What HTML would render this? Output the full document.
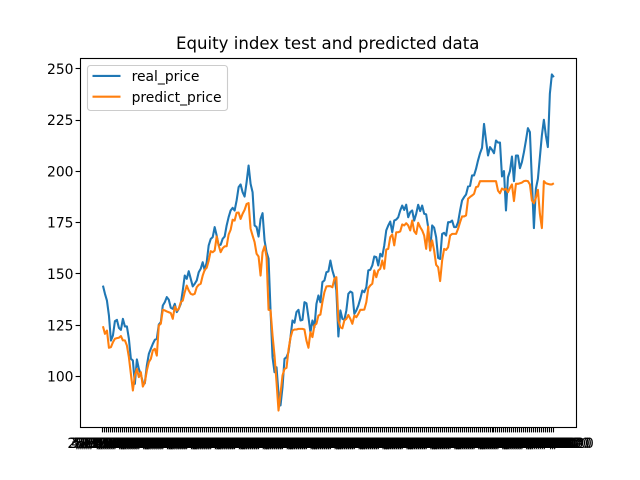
<!DOCTYPE html>
<html>
<head>
<meta charset="utf-8">
<title>Equity index test and predicted data</title>
<style>
html,body{margin:0;padding:0;background:#fff;}
svg{display:block;font-family:"DejaVu Sans","Liberation Sans",sans-serif;}
</style>
</head>
<body>
<svg id="chart" width="640" height="480" viewBox="0 0 640 480" xmlns="http://www.w3.org/2000/svg">
<rect x="0" y="0" width="640" height="480" fill="#fff"/>
<text x="327.7" y="49" font-size="16.6" text-anchor="middle" fill="#000">Equity index test and predicted data</text>
<g id="xticks"></g>
<g id="yticks"></g>
<g id="series"></g>
<rect x="80.5" y="58.5" width="496" height="369" fill="none" stroke="#000" stroke-width="1.11"/>
<g>
<rect x="87.5" y="65.5" width="140" height="45" rx="3" ry="3" fill="#fff" fill-opacity="0.8" stroke="#ccc" stroke-width="1.11"/>
<line x1="92.5" x2="120.5" y1="75.9" y2="75.9" stroke="#1f77b4" stroke-width="2.08"/>
<text x="131.6" y="81" font-size="13.89" fill="#000">real_price</text>
<line x1="92.5" x2="120.5" y1="96.7" y2="96.7" stroke="#ff7f0e" stroke-width="2.08"/>
<text x="131.6" y="102" font-size="13.89" fill="#000">predict_price</text>
</g>
</svg>
<script>
const categories = [
"2/28/2002","3/31/2002","4/30/2002","5/31/2002","6/30/2002","7/31/2002","8/31/2002","9/30/2002","10/31/2002","11/30/2002","12/31/2002",
"1/31/2003","2/28/2003","3/31/2003","4/30/2003","5/31/2003","6/30/2003","7/31/2003","8/31/2003","9/30/2003","10/31/2003","11/30/2003","12/31/2003",
"1/31/2004","2/29/2004","3/31/2004","4/30/2004","5/31/2004","6/30/2004","7/31/2004","8/31/2004","9/30/2004","10/31/2004","11/30/2004","12/31/2004",
"1/31/2005","2/28/2005","3/31/2005","4/30/2005","5/31/2005","6/30/2005","7/31/2005","8/31/2005","9/30/2005","10/31/2005","11/30/2005","12/31/2005",
"1/31/2006","2/28/2006","3/31/2006","4/30/2006","5/31/2006","6/30/2006","7/31/2006","8/31/2006","9/30/2006","10/31/2006","11/30/2006","12/31/2006",
"1/31/2007","2/28/2007","3/31/2007","4/30/2007","5/31/2007","6/30/2007","7/31/2007","8/31/2007","9/30/2007","10/31/2007","11/30/2007","12/31/2007",
"1/31/2008","2/29/2008","3/31/2008","4/30/2008","5/31/2008","6/30/2008","7/31/2008","8/31/2008","9/30/2008","10/31/2008","11/30/2008","12/31/2008",
"1/31/2009","2/28/2009","3/31/2009","4/30/2009","5/31/2009","6/30/2009","7/31/2009","8/31/2009","9/30/2009","10/31/2009","11/30/2009","12/31/2009",
"1/31/2010","2/28/2010","3/31/2010","4/30/2010","5/31/2010","6/30/2010","7/31/2010","8/31/2010","9/30/2010","10/31/2010","11/30/2010","12/31/2010",
"1/31/2011","2/28/2011","3/31/2011","4/30/2011","5/31/2011","6/30/2011","7/31/2011","8/31/2011","9/30/2011","10/31/2011","11/30/2011","12/31/2011",
"1/31/2012","2/29/2012","3/31/2012","4/30/2012","5/31/2012","6/30/2012","7/31/2012","8/31/2012","9/30/2012","10/31/2012","11/30/2012","12/31/2012",
"1/31/2013","2/28/2013","3/31/2013","4/30/2013","5/31/2013","6/30/2013","7/31/2013","8/31/2013","9/30/2013","10/31/2013","11/30/2013","12/31/2013",
"1/31/2014","2/28/2014","3/31/2014","4/30/2014","5/31/2014","6/30/2014","7/31/2014","8/31/2014","9/30/2014","10/31/2014","11/30/2014","12/31/2014",
"1/31/2015","2/28/2015","3/31/2015","4/30/2015","5/31/2015","6/30/2015","7/31/2015","8/31/2015","9/30/2015","10/31/2015","11/30/2015","12/31/2015",
"1/31/2016","2/29/2016","3/31/2016","4/30/2016","5/31/2016","6/30/2016","7/31/2016","8/31/2016","9/30/2016","10/31/2016","11/30/2016","12/31/2016",
"1/31/2017","2/28/2017","3/31/2017","4/30/2017","5/31/2017","6/30/2017","7/31/2017","8/31/2017","9/30/2017","10/31/2017","11/30/2017","12/31/2017",
"1/31/2018","2/28/2018","3/31/2018","4/30/2018","5/31/2018","6/30/2018","7/31/2018","8/31/2018","9/30/2018","10/31/2018","11/30/2018","12/31/2018",
"1/31/2019","2/28/2019","3/31/2019","4/30/2019","5/31/2019","6/30/2019","7/31/2019","8/31/2019","9/30/2019","10/31/2019","11/30/2019","12/31/2019",
"1/31/2020","2/29/2020","3/31/2020","4/30/2020","5/31/2020","6/30/2020","7/31/2020","8/31/2020","9/30/2020","10/31/2020","11/30/2020","12/31/2020"
];
const realPrice = [
144.3,140.3,137.0,129.7,117.5,120.0,127.0,127.6,123.7,122.7,128.1,124.4,124.4,118.4,108.6,107.8,96.4,108.3,103.7,101.0,
97.2,96.7,105.4,111.0,113.5,115.9,117.9,118.4,125.3,126.5,134.6,136.2,138.7,137.4,133.5,133.0,135.4,131.4,133.0,135.4,
141.9,149.2,147.6,151.3,147.6,143.9,145.2,146.8,150.8,152.5,155.7,151.7,155.7,163.9,167.0,167.9,172.8,168.7,163.9,164.2,
167.1,168.2,173.6,177.7,180.9,182.2,180.9,185.8,192.3,193.6,189.8,187.7,194.7,202.8,193.9,189.8,173.6,172.8,168.2,176.8,
179.6,166.3,160.6,157.4,132.2,109.4,102.1,104.5,91.6,85.9,94.8,108.6,109.4,111.9,119.2,127.3,126.2,131.4,132.5,127.3,
127.6,136.2,135.7,128.9,121.6,127.3,124.0,135.4,139.5,136.2,146.0,146.8,150.8,151.2,156.5,151.7,148.4,141.9,119.5,132.2,
128.1,127.6,132.2,140.3,141.4,140.8,130.5,132.2,134.6,137.9,141.9,141.1,143.5,151.7,152.0,154.1,158.5,158.2,154.1,159.8,
158.5,163.9,171.2,173.6,175.5,170.3,176.0,176.5,177.6,180.9,183.3,181.2,183.7,177.6,180.1,180.9,176.0,179.3,183.7,180.6,
183.3,179.3,179.0,172.8,161.4,173.6,172.5,167.9,157.8,157.3,169.5,170.0,168.7,175.2,175.2,176.0,172.8,172.8,175.2,180.9,
185.8,187.4,188.7,192.6,192.9,198.0,198.0,201.2,205.3,208.8,211.4,223.1,215.0,207.7,211.8,210.5,208.8,215.0,214.0,214.0,
197.5,200.1,180.9,197.1,200.1,207.2,195.2,207.7,207.7,201.5,204.5,209.3,215.0,221.0,219.1,195.5,172.3,191.5,196.3,206.9,
217.5,225.1,217.5,211.8,237.8,247.2,245.9
];
const predictPrice = [
124.5,120.8,122.4,114.0,114.3,116.7,118.4,118.7,118.9,119.7,117.6,117.6,115.1,109.4,101.3,93.2,100.5,103.7,99.7,102.1,
95.1,97.2,102.9,107.0,108.6,112.7,113.5,110.2,124.9,125.7,132.5,132.2,131.7,131.3,130.9,128.1,134.1,132.2,133.0,136.2,
137.0,141.1,144.3,141.9,140.3,139.9,140.3,143.5,144.7,145.2,149.2,152.0,153.0,156.5,161.1,160.6,161.4,168.2,163.9,160.6,
162.5,163.4,163.5,169.2,171.5,176.4,176.0,179.8,179.9,176.8,179.3,181.2,184.1,184.5,172.0,168.7,165.5,159.8,158.5,149.2,
160.6,163.5,158.2,132.5,132.2,120.0,110.2,97.2,83.4,91.6,100.5,103.7,104.2,113.0,118.9,122.4,122.9,122.9,123.2,123.2,
123.2,122.9,117.5,114.0,121.6,119.2,124.9,125.7,129.7,130.2,136.2,141.1,143.9,144.0,144.0,143.5,147.6,148.4,127.3,124.0,
123.5,127.3,128.1,130.0,128.1,125.7,129.7,128.9,130.5,132.5,132.5,132.6,136.2,143.0,144.4,145.2,151.7,148.4,151.7,152.5,
156.5,152.5,161.9,162.2,167.9,169.2,163.9,170.3,170.3,170.7,174.1,173.6,174.7,173.6,171.2,176.0,170.8,169.5,174.9,172.8,
171.2,168.7,162.2,173.1,161.4,166.3,161.4,154.4,153.3,146.5,156.5,162.2,161.7,163.0,168.7,169.5,169.5,169.5,172.0,175.2,
178.0,178.0,178.5,186.6,187.5,188.2,189.0,192.3,192.6,195.2,195.2,195.2,195.2,195.2,195.2,195.2,195.2,195.2,190.6,189.3,
191.6,191.0,191.5,189.8,191.9,193.6,185.5,193.9,193.9,194.2,194.5,195.2,195.4,195.2,193.6,185.8,184.5,187.1,191.0,179.3,
172.3,195.2,194.2,193.9,193.6,193.6,194.2
];
const yTickValues = [100,125,150,175,200,225,250];

const NS = 'http://www.w3.org/2000/svg';
function xScale(i){ return 102.95 + 450.9 * i / (categories.length - 1); }
function yScale(v){ return 376.5 - (v - 100) * 2.052; }
function snap(p){ return Math.floor(p) + 0.5; }
function make(tag, parent, attrs){
  const el = document.createElementNS(NS, tag);
  for (const k in attrs) el.setAttribute(k, attrs[k]);
  parent.appendChild(el);
  return el;
}
const xG = document.getElementById('xticks');
categories.forEach(function(c, i){
  const t = make('line', xG, {x1:snap(xScale(i)), x2:snap(xScale(i)), y1:427.5, y2:432.4, stroke:'#000', 'stroke-width':1.11});
  
  
  const l = make('text', xG, {x:xScale(i), y:448.2, 'font-size':13.89, 'text-anchor':'middle', fill:'#000'});
  l.textContent = c;
  
  
});
const yG = document.getElementById('yticks');
yTickValues.forEach(function(v){
  const t = make('line', yG, {x1:75.6, x2:80.5, y1:snap(yScale(v)), y2:snap(yScale(v)), stroke:'#000', 'stroke-width':1.11});
  
  
  const l = make('text', yG, {x:73.5, y:yScale(v) + 5.1, 'font-size':13.89, 'text-anchor':'end', fill:'#000'});
  l.textContent = String(v);
  
  
});
function linePoints(values){
  return values.map(function(v, i){ return xScale(i).toFixed(2) + ',' + yScale(v).toFixed(2); }).join(' ');
}
const sG = document.getElementById('series');
const realLine = make('polyline', sG, {points:linePoints(realPrice), fill:'none', stroke:'#1f77b4', 'stroke-width':2.08, 'stroke-linejoin':'round'});


const predictLine = make('polyline', sG, {points:linePoints(predictPrice), fill:'none', stroke:'#ff7f0e', 'stroke-width':2.08, 'stroke-linejoin':'round'});


</script>
</body>
</html>
